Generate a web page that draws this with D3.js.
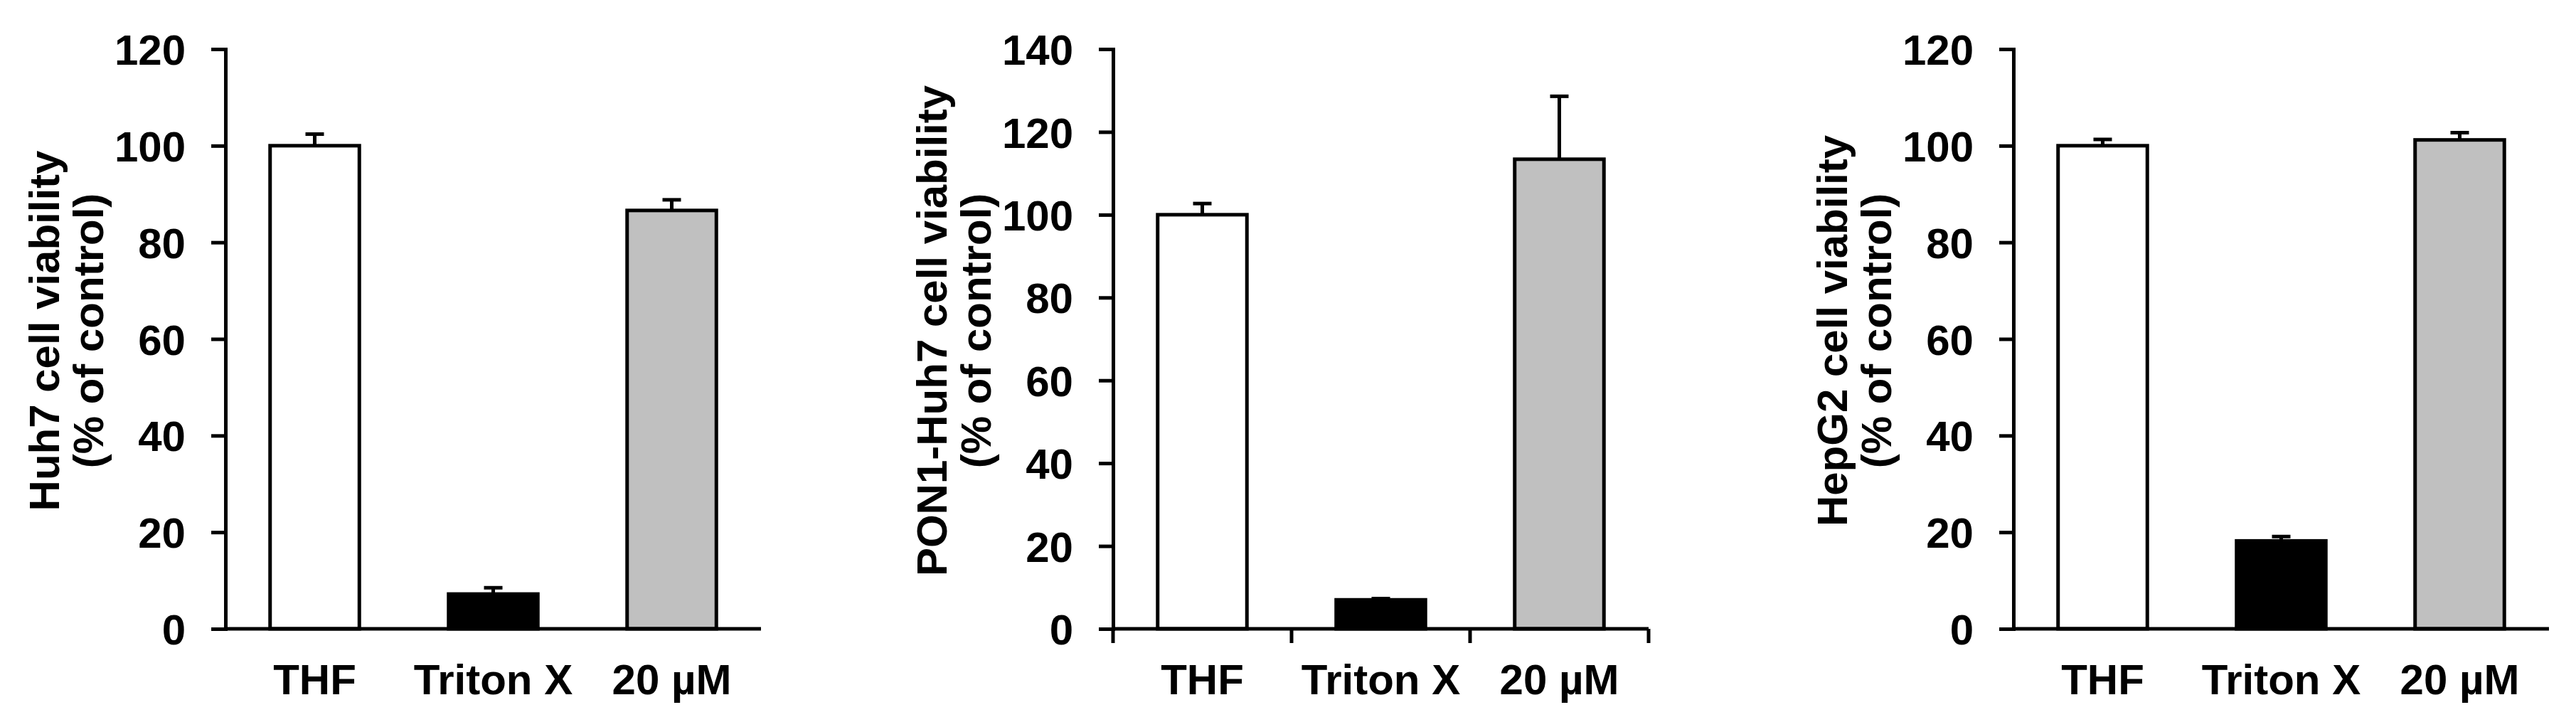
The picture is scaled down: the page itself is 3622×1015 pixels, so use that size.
<!DOCTYPE html>
<html>
<head>
<meta charset="utf-8">
<script src="https://cdn.jsdelivr.net/npm/d3@7/dist/d3.min.js"></script>
<style>
  html, body { margin: 0; padding: 0; background: #ffffff; }
  svg { display: block; }
  text { font-family: "Liberation Sans", Arial, Helvetica, sans-serif; font-weight: bold; fill: #000; }
</style>
</head>
<body>
<svg id="chart" width="3622" height="1015"></svg>
<script>
// ---- data ----
const categories = ["THF", "Triton X", "20 \u00b5M"];
const barColors = ["#ffffff", "#000000", "#c0c0c0"];

const huh7Values = [100, 7.2, 86.6];
const huh7Errors = [2.4, 1.3, 2.2];

const pon1Values = [100, 7.0, 113.4];
const pon1Errors = [2.7, 0.3, 15.2];

const hepg2Values = [100, 18.2, 101.2];
const hepg2Errors = [1.3, 0.9, 1.5];

const huh7Ticks = [0, 20, 40, 60, 80, 100, 120];
const pon1Ticks = [0, 20, 40, 60, 80, 100, 120, 140];
const hepg2Ticks = [0, 20, 40, 60, 80, 100, 120];

const titles1 = ["Huh7 cell viability", "(% of control)"];
const titles2 = ["PON1-Huh7 cell viability", "(% of control)"];
const titles3 = ["HepG2 cell viability", "(% of control)"];

// ---- layout ----
const svg = d3.select("#chart");
const yTop = 69, yBottom = 884;
const bandStep = 251;
const SW = 5;
const FS = 60;

const panels = [
  { axisX: 317,  values: huh7Values,  errors: huh7Errors,  ticks: huh7Ticks,  yMax: 120, titles: titles1, catTicks: false },
  { axisX: 1565, values: pon1Values,  errors: pon1Errors,  ticks: pon1Ticks,  yMax: 140, titles: titles2, catTicks: true },
  { axisX: 2831, values: hepg2Values, errors: hepg2Errors, ticks: hepg2Ticks, yMax: 120, titles: titles3, catTicks: false }
];

panels.forEach(p => {
  const g = svg.append("g");
  const x = d3.scaleBand()
    .domain(categories)
    .range([p.axisX, p.axisX + bandStep * categories.length])
    .paddingInner(0.5)
    .paddingOuter(0.25);
  const y = d3.scaleLinear().domain([0, p.yMax]).range([yBottom, yTop]);

  // bars
  g.selectAll("rect.bar")
    .data(categories)
    .enter().append("rect")
    .attr("class", "bar")
    .attr("x", d => x(d))
    .attr("width", x.bandwidth())
    .attr("y", (d, i) => y(p.values[i]))
    .attr("height", (d, i) => y(0) - y(p.values[i]))
    .attr("fill", (d, i) => barColors[i])
    .attr("stroke", "#000")
    .attr("stroke-width", SW);

  // error bars (upper only)
  const eg = g.selectAll("g.err")
    .data(categories)
    .enter().append("g").attr("class", "err");
  eg.append("line")
    .attr("x1", d => x(d) + x.bandwidth() / 2)
    .attr("x2", d => x(d) + x.bandwidth() / 2)
    .attr("y1", (d, i) => y(p.values[i]))
    .attr("y2", (d, i) => y(p.values[i] + p.errors[i]))
    .attr("stroke", "#000").attr("stroke-width", SW);
  eg.append("line")
    .attr("x1", d => x(d) + x.bandwidth() / 2 - 13)
    .attr("x2", d => x(d) + x.bandwidth() / 2 + 13)
    .attr("y1", (d, i) => y(p.values[i] + p.errors[i]))
    .attr("y2", (d, i) => y(p.values[i] + p.errors[i]))
    .attr("stroke", "#000").attr("stroke-width", SW);

  // x axis line
  const xr = x.range();
  g.append("line")
    .attr("x1", xr[0]).attr("x2", xr[1])
    .attr("y1", y(0)).attr("y2", y(0))
    .attr("stroke", "#000").attr("stroke-width", SW);

  // category boundary ticks (panel 2)
  if (p.catTicks) {
    const bounds = d3.range(categories.length + 1).map(i => xr[0] + i * x.step());
    g.selectAll("line.ct")
      .data(bounds)
      .enter().append("line")
      .attr("x1", d => d).attr("x2", d => d)
      .attr("y1", y(0)).attr("y2", y(0) + 20)
      .attr("stroke", "#000").attr("stroke-width", SW);
  }

  // y axis
  const yAxis = d3.axisLeft(y)
    .tickValues(p.ticks)
    .tickFormat(d3.format("d"))
    .tickSize(20)
    .tickSizeOuter(0)
    .tickPadding(36);
  const ya = g.append("g")
    .attr("transform", `translate(${p.axisX},0)`)
    .call(yAxis);
  ya.select(".domain")
    .attr("stroke", "#000").attr("stroke-width", SW).attr("stroke-linecap", "square");
  ya.selectAll(".tick line").attr("stroke", "#000").attr("stroke-width", SW);
  ya.selectAll(".tick text")
    .attr("font-size", FS)
    .attr("font-family", "Liberation Sans, Arial, sans-serif")
    .attr("font-weight", "bold")
    .attr("fill", "#000")
    .attr("dy", "0.36em");

  // category labels
  g.selectAll("text.cat")
    .data(categories)
    .enter().append("text")
    .attr("class", "cat")
    .attr("x", d => x(d) + x.bandwidth() / 2)
    .attr("y", 976)
    .attr("text-anchor", "middle")
    .attr("font-size", FS)
    .text(d => d);

  // y title (two lines)
  const titleOffsets = [234, 172];
  p.titles.forEach((t, i) => {
    g.append("text")
      .attr("transform", `translate(${p.axisX - titleOffsets[i]},465) rotate(-90)`)
      .attr("text-anchor", "middle")
      .attr("font-size", FS)
      .text(t);
  });
});
</script>
</body>
</html>
